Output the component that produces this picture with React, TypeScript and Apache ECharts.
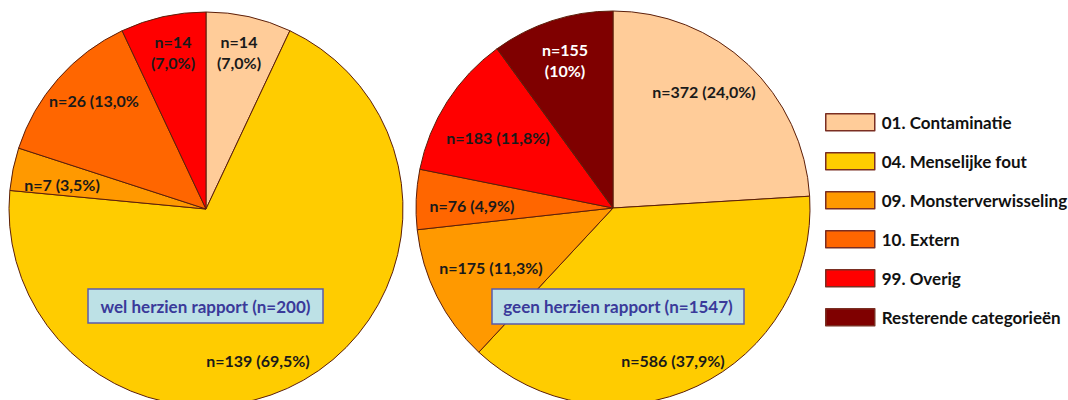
import React, { useEffect, useRef } from "react";
import * as echarts from "echarts";

const categories = [
  "01. Contaminatie",
  "04. Menselijke fout",
  "09. Monsterverwisseling",
  "10. Extern",
  "99. Overig",
  "Resterende categorieën",
];
const colors = ["#FFCC99", "#FFCC00", "#FF9900", "#FF6600", "#FF0000", "#7F0000"];

const welValues = [14, 139, 7, 26, 14];
const welLabels = ["n=14\n(7,0%)", "n=139 (69,5%)", "n=7 (3,5%)", "n=26 (13,0%", "n=14\n(7,0%)"];
const geenValues = [372, 586, 175, 76, 183, 155];
const geenLabels = [
  "n=372 (24,0%)",
  "n=586 (37,9%)",
  "n=175 (11,3%)",
  "n=76 (4,9%)",
  "n=183 (11,8%)",
  "n=155\n(10%)",
];
const welTitle = "wel herzien rapport (n=200)";
const geenTitle = "geen herzien rapport (n=1547)";

// label anchor positions (px) per series, per slice
const labelPos = [
  [[239, 52], [258, 360], [62, 184], [94, 100], [173, 52]],
  [[704, 91], [673, 360], [491, 267], [472, 205], [498, 137], [565, 60]],
];

const FONT = "Lato, 'Open Sans', sans-serif";

function makeData(values: number[], labels: string[]) {
  return values.map((v, i) => ({
    name: categories[i],
    value: v,
    itemStyle: { color: colors[i] },
    label: {
      formatter: labels[i],
      color: i === 5 ? "#ffffff" : "#1a1a1a",
    },
  }));
}

function box(x: number, y: number, w: number, h: number, text: string) {
  return {
    type: "group",
    z: 100,
    children: [
      {
        type: "rect",
        z: 100,
        shape: { x, y, width: w, height: h },
        style: { fill: "#BDE1E6", stroke: "#5B5BAA", lineWidth: 1.5 },
      },
      {
        type: "text",
        z: 101,
        x: x + w / 2,
        y: y + h / 2,
        style: {
          text,
          fill: "#3A3A9A",
          font: `bold 17px ${FONT}`,
          align: "center",
          verticalAlign: "middle",
        },
      },
    ],
  };
}

export default function App() {
  const ref = useRef<HTMLDivElement>(null);
  useEffect(() => {
    document.body.style.margin = "0";
    const chart = echarts.init(ref.current!, null, { renderer: "svg" });
    const seriesBase = {
      type: "pie",
      radius: 197,
      startAngle: 90,
      clockwise: true,
      animation: false,
      silent: true,
      avoidLabelOverlap: false,
      itemStyle: { borderColor: "#5C1F0A", borderWidth: 1 },
      label: {
        show: true,
        position: "inside",
        fontFamily: FONT,
        fontSize: 16,
        fontWeight: "bold",
        lineHeight: 21,
        align: "center",
      },
      labelLine: { show: false },
      emphasis: { disabled: true },
      labelLayout: (params: any) => {
        const p = labelPos[params.seriesIndex][params.dataIndex];
        return { x: p[0], y: p[1], align: "center", verticalAlign: "middle" };
      },
    };
    chart.setOption({
      animation: false,
      legend: {
        data: categories,
        orient: "vertical",
        left: 825,
        top: 113,
        padding: 0,
        itemWidth: 49,
        itemHeight: 17,
        itemGap: 20.5,
        icon: "rect",
        selectedMode: false,
        itemStyle: { borderColor: "#7A2E22", borderWidth: 1.5 },
        textStyle: {
          fontFamily: FONT,
          fontSize: 17,
          fontWeight: "bold",
          color: "#111",
          padding: [0, 0, 0, 2],
        },
      },
      series: [
        { ...seriesBase, name: "wel", center: [206, 209], data: makeData(welValues, welLabels) },
        { ...seriesBase, name: "geen", center: [613, 208], data: makeData(geenValues, geenLabels) },
      ],
      graphic: {
        elements: [box(88, 289, 235, 34, welTitle), box(492, 289, 252, 35, geenTitle)],
      },
    });
    return () => chart.dispose();
  }, []);
  return <div ref={ref} style={{ width: 1068, height: 400 }} />;
}
